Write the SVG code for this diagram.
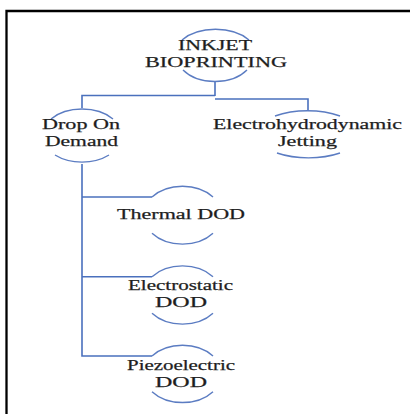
<svg xmlns="http://www.w3.org/2000/svg" width="410" height="414" viewBox="0 0 410 414">
<style>
.arc{fill:none;stroke:#5b7cc2;stroke-width:1.4}
.ln{fill:none;stroke:#4a70bd;stroke-width:1.6}
.t{font-family:"Liberation Serif","Times New Roman",serif;font-size:15px;fill:#1e1e1e;text-anchor:middle;stroke:#1e1e1e;stroke-width:0.25}
</style>
<rect width="410" height="414" fill="#fff"/>
<path d="M6.5,414 V11 H410" fill="none" stroke="#000" stroke-width="2.3"/>
<g id="connectors">
<path class="ln" d="M215,82 V96" stroke-width="2.4"/>
<path class="ln" d="M215,95.5 H82 V108"/>
<path class="ln" d="M215,99 H308 V111"/>
<path class="ln" d="M82,164 V356 H152"/>
<path class="ln" d="M82,197 H152"/>
<path class="ln" d="M82,276.7 H152"/>
</g>
<g id="inkjet">
<path class="arc" d="M182,40 A42,27 0 0 1 249,40"/>
<path class="arc" d="M183,70 A39,27 0 0 0 247,70"/>
<text class="t" x="215" y="49.5" textLength="74" lengthAdjust="spacingAndGlyphs">INKJET</text>
<text class="t" x="216" y="66.5" textLength="142" lengthAdjust="spacingAndGlyphs">BIOPRINTING</text>
</g>
<g id="dod">
<path class="arc" d="M51,119 A40,27 0 0 1 113,119"/>
<path class="arc" d="M55,155 A40,27 0 0 0 109,155"/>
<text class="t" x="81" y="128.5" textLength="78" lengthAdjust="spacingAndGlyphs">Drop On</text>
<text class="t" x="81.5" y="145.5" textLength="73" lengthAdjust="spacingAndGlyphs">Demand</text>
</g>
<g id="ehd">
<path class="arc" d="M275,116 A55,27 0 0 1 340,116"/>
<path class="arc" d="M277,153 A55,27 0 0 0 340,153"/>
<text class="t" x="307.5" y="128.5" textLength="189" lengthAdjust="spacingAndGlyphs">Electrohydrodynamic</text>
<text class="t" x="307.5" y="145.5" textLength="59" lengthAdjust="spacingAndGlyphs">Jetting</text>
</g>
<g id="thermal">
<path class="arc" d="M152,197 A39,28.7 0 0 1 213,197"/>
<path class="arc" d="M152,233.3 A39,28.7 0 0 0 213,233.3"/>
<text class="t" x="181" y="219" textLength="128" lengthAdjust="spacingAndGlyphs">Thermal DOD</text>
</g>
<g id="electrostatic">
<path class="arc" d="M152,276.7 A39,28.7 0 0 1 213,276.7"/>
<path class="arc" d="M152,313.3 A39,28.7 0 0 0 213,313.3"/>
<text class="t" x="180.5" y="289.5" textLength="105" lengthAdjust="spacingAndGlyphs">Electrostatic</text>
<text class="t" x="181" y="306.5" textLength="52" lengthAdjust="spacingAndGlyphs">DOD</text>
</g>
<g id="piezo">
<path class="arc" d="M152,356 A39,28.7 0 0 1 213,356"/>
<path class="arc" d="M152,391.7 A39,28.7 0 0 0 213,391.7"/>
<text class="t" x="181" y="369.5" textLength="108" lengthAdjust="spacingAndGlyphs">Piezoelectric</text>
<text class="t" x="181" y="386.5" textLength="52" lengthAdjust="spacingAndGlyphs">DOD</text>
</g>
</svg>
